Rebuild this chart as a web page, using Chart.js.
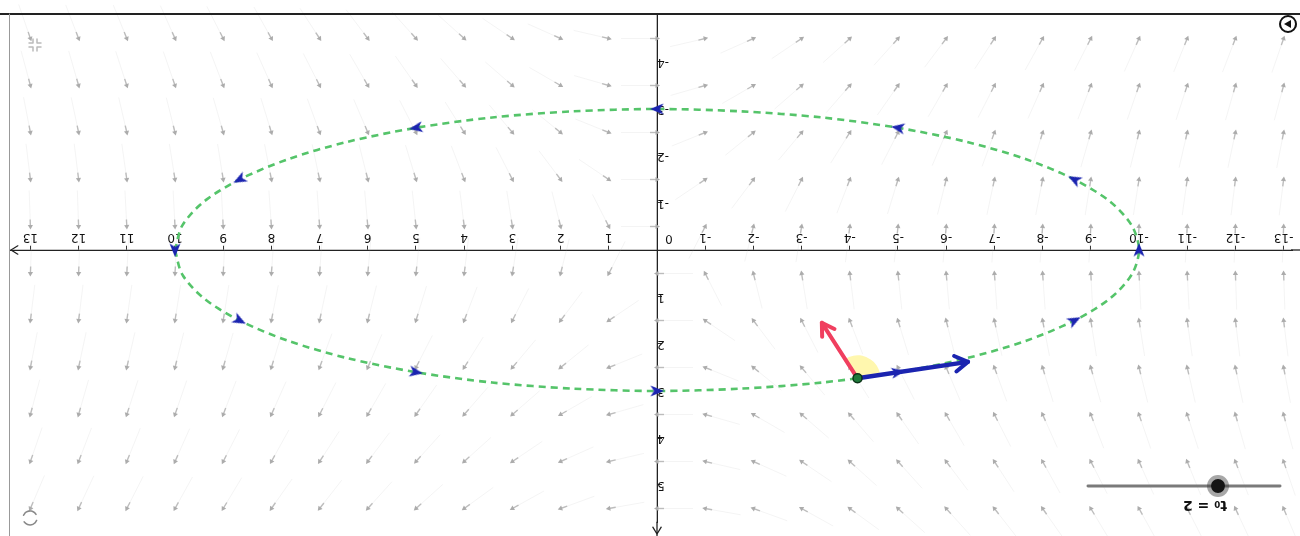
<!DOCTYPE html>
<html>
<head>
<meta charset="utf-8" />
<title>Vector field along an ellipse</title>
<script src="https://cdn.jsdelivr.net/npm/chart.js@4.4.1/dist/chart.umd.min.js"></script>
<style>
  html, body { margin: 0; padding: 0; background: #fff; overflow: hidden; }
  /* the reference shot is upside down, so the whole view is turned */
  #wrap { width: 1300px; height: 536px; transform: rotate(180deg); }
</style>
</head>
<body>
<div id="wrap"><canvas id="myChart" width="1300" height="536"></canvas></div>
<script>
// grid of the vector field (gray arrows), angle in degrees from +x, counter-clockwise
const fieldXs = [-13,-12,-11,-10,-9,-8,-7,-6,-5,-4,-3,-2,-1,0,1,2,3,4,5,6,7,8,9,10,11,12,13];
const fieldYs = [5.5, 4.5, 3.5, 2.5, 1.5, 0.5, -0.5, -1.5, -2.5, -3.5, -4.5];
const fieldAngles = [
  [-67,-65,-63,-61,-59,-55,-52,-48,-42,-36,-29,-20,-10,0,10,20,29,36,42,48,52,55,59,61,63,65,67],
  [-71,-69,-68,-66,-63,-61,-57,-53,-48,-42,-34,-24,-13,0,13,24,34,42,48,53,57,61,63,66,68,69,71],
  [-75,-74,-72,-71,-69,-66,-63,-60,-55,-49,-41,-30,-16,0,16,30,41,49,55,60,63,66,69,71,72,74,75],
  [-79,-78,-77,-76,-74,-73,-70,-67,-63,-58,-50,-39,-22,0,22,39,50,58,63,67,70,73,74,76,77,78,79],
  [-83,-83,-82,-81,-81,-79,-78,-76,-73,-69,-63,-53,-34,0,34,53,63,69,73,76,78,79,81,81,82,83,83],
  [-88,-88,-87,-87,-87,-86,-86,-85,-84,-83,-81,-76,-63,0,63,76,81,83,84,85,86,86,87,87,87,88,88],
  [-92,-92,-93,-93,-93,-94,-94,-95,-96,-97,-99,-104,-117,180,117,104,99,97,96,95,94,94,93,93,93,92,92],
  [-97,-97,-98,-99,-99,-101,-102,-104,-107,-111,-117,-127,-146,180,146,127,117,111,107,104,102,101,99,99,98,97,97],
  [-101,-102,-103,-104,-106,-107,-110,-113,-117,-122,-130,-141,-158,180,158,141,130,122,117,113,110,107,106,104,103,102,101],
  [-105,-106,-108,-109,-111,-114,-117,-120,-125,-131,-139,-150,-164,180,164,150,139,131,125,120,117,114,111,109,108,106,105],
  [-109,-111,-112,-114,-117,-119,-123,-127,-132,-138,-146,-156,-167,180,167,156,146,138,132,127,123,119,117,114,112,111,109]
];

// the green dashed ellipse (semi axes 10 and 3)
const ellipseX = [10,9.85,9.40,8.66,7.66,6.43,5.00,3.42,1.74,0,-1.74,-3.42,-5.00,-6.43,-7.66,-8.66,-9.40,-9.85,-10,
                  -9.85,-9.40,-8.66,-7.66,-6.43,-5.00,-3.42,-1.74,0,1.74,3.42,5.00,6.43,7.66,8.66,9.40,9.85,10];
const ellipseY = [0,0.52,1.03,1.50,1.93,2.30,2.60,2.82,2.95,3,2.95,2.82,2.60,2.30,1.93,1.50,1.03,0.52,0,
                  -0.52,-1.03,-1.50,-1.93,-2.30,-2.60,-2.82,-2.95,-3,-2.95,-2.82,-2.60,-2.30,-1.93,-1.50,-1.03,-0.52,0];

// blue direction marks on the ellipse
const dirX = [10, 8.66, 5, 0, -5, -8.66, -10, -8.66, -5, 0, 5, 8.66];
const dirY = [0, 1.5, 2.6, 3, 2.6, 1.5, 0, -1.5, -2.6, -3, -2.6, -1.5];
const dirAngle = [90, 152.5, 170.2, 180, 189.8, 207.5, 270, 332.5, 350.2, 360, 369.8, 387.5];

// point at t0 and its two vectors
const t0 = 2;
const pointX = -4.16, pointY = 2.73;
const tangentEnd = [-6.45, 2.38];
const fieldEnd = [-3.42, 1.55];

const axisTicksX = [-13,-12,-11,-10,-9,-8,-7,-6,-5,-4,-3,-2,-1,1,2,3,4,5,6,7,8,9,10,11,12,13];
const axisTicksY = [-4,-3,-2,-1,1,2,3,4,5];

// view: where the origin sits on the canvas and how many pixels one unit takes
const originPx = 643, originPy = 286, unitX = 48.2, unitY = 47;

const fieldPoints = [];
fieldYs.forEach((fy, i) => fieldXs.forEach((fx, j) => fieldPoints.push({x: fx, y: fy, a: fieldAngles[i][j]})));

// small arrow-head sprite pointing up, used for the blue direction marks
const headImg = document.createElement('canvas');
headImg.width = 14; headImg.height = 15;
(function () {
  const c = headImg.getContext('2d');
  c.fillStyle = '#1b24b0';
  c.beginPath();
  c.moveTo(7, 0.5); c.lineTo(1.5, 14); c.lineTo(7, 10.5); c.lineTo(12.5, 14);
  c.closePath(); c.fill();
})();

function arrowHead(ctx, x0, y0, x1, y1, len, color, w) {
  const ang = Math.atan2(y1 - y0, x1 - x0);
  ctx.strokeStyle = color; ctx.lineWidth = w;
  ctx.lineCap = 'round'; ctx.lineJoin = 'round';
  ctx.beginPath();
  ctx.moveTo(x1 - len * Math.cos(ang - 0.55), y1 - len * Math.sin(ang - 0.55));
  ctx.lineTo(x1, y1);
  ctx.lineTo(x1 - len * Math.cos(ang + 0.55), y1 - len * Math.sin(ang + 0.55));
  ctx.stroke();
}

const decor = {
  id: 'decor',
  beforeDatasetsDraw(chart) {
    const {ctx, scales: {x, y}} = chart;
    ctx.save();
    // faint shafts behind the gray field arrow heads
    fieldPoints.forEach(p => {
      const a = p.a * Math.PI / 180;
      const px = x.getPixelForValue(p.x), py = y.getPixelForValue(p.y);
      const c = Math.cos(a), s = -Math.sin(a);
      ctx.strokeStyle = 'rgba(170,170,170,0.13)'; ctx.lineWidth = 1;
      ctx.beginPath(); ctx.moveTo(px - 36 * c, py - 36 * s); ctx.lineTo(px, py); ctx.stroke();
      ctx.strokeStyle = 'rgba(170,170,170,0.75)'; ctx.lineWidth = 1.4;
      ctx.beginPath(); ctx.moveTo(px - 7 * c, py - 7 * s); ctx.lineTo(px, py); ctx.stroke();
    });
    // yellow angle between the two vectors
    const px = x.getPixelForValue(pointX), py = y.getPixelForValue(pointY);
    const aT = Math.atan2(y.getPixelForValue(tangentEnd[1]) - py, x.getPixelForValue(tangentEnd[0]) - px);
    const aF = Math.atan2(y.getPixelForValue(fieldEnd[1]) - py, x.getPixelForValue(fieldEnd[0]) - px);
    ctx.fillStyle = 'rgba(255,242,120,0.6)';
    ctx.beginPath(); ctx.moveTo(px, py);
    ctx.arc(px, py, 23, Math.min(aT, aF), Math.max(aT, aF), false);
    ctx.closePath(); ctx.fill();
    ctx.restore();
  },
  afterDatasetsDraw(chart) {
    const {ctx, scales: {x, y}} = chart;
    ctx.save();
    const px = x.getPixelForValue(pointX), py = y.getPixelForValue(pointY);
    arrowHead(ctx, px, py, x.getPixelForValue(tangentEnd[0]), y.getPixelForValue(tangentEnd[1]), 15, '#1b24b0', 4);
    arrowHead(ctx, px, py, x.getPixelForValue(fieldEnd[0]), y.getPixelForValue(fieldEnd[1]), 14, '#f03f5f', 4);
    ctx.fillStyle = '#1f7a3a'; ctx.strokeStyle = '#0c3318'; ctx.lineWidth = 1.5;
    ctx.beginPath(); ctx.arc(px, py, 4.5, 0, Math.PI * 2); ctx.fill(); ctx.stroke();
    ctx.restore();
  },
  afterDraw(chart) {
    const {ctx, chartArea: ca, scales: {x, y}} = chart;
    ctx.save();
    const ox = x.getPixelForValue(0), oy = y.getPixelForValue(0);
    // axes run on to the canvas edges, arrows at the positive ends
    ctx.strokeStyle = '#222'; ctx.lineWidth = 1.3;
    ctx.beginPath(); ctx.moveTo(0, oy); ctx.lineTo(ca.left + 1, oy); ctx.stroke();
    ctx.beginPath(); ctx.moveTo(ox, 0); ctx.lineTo(ox, ca.top + 1); ctx.stroke();
    arrowHead(ctx, ca.right - 20, oy, ca.right - 1, oy, 8, '#222', 1.3);
    arrowHead(ctx, ox, 20, ox, 2, 8, '#222', 1.3);
    ctx.fillStyle = '#111'; ctx.font = '12px "DejaVu Sans", sans-serif';
    ctx.textAlign = 'center'; ctx.textBaseline = 'middle';
    ctx.fillText('0', ox - 12, oy + 12);
    // frame
    ctx.strokeStyle = '#222'; ctx.lineWidth = 2;
    ctx.beginPath(); ctx.moveTo(0, 522); ctx.lineTo(1300, 522); ctx.stroke();
    ctx.strokeStyle = '#999'; ctx.lineWidth = 1;
    ctx.beginPath(); ctx.moveTo(1290.5, 0); ctx.lineTo(1290.5, 522); ctx.stroke();
    // slider for t0
    ctx.strokeStyle = '#7a7a7a'; ctx.lineWidth = 3;
    ctx.beginPath(); ctx.moveTo(20, 50); ctx.lineTo(212, 50); ctx.stroke();
    ctx.fillStyle = 'rgba(60,60,60,0.45)';
    ctx.beginPath(); ctx.arc(82, 50, 11, 0, Math.PI * 2); ctx.fill();
    ctx.fillStyle = '#151515';
    ctx.beginPath(); ctx.arc(82, 50, 7, 0, Math.PI * 2); ctx.fill();
    ctx.fillStyle = '#111'; ctx.font = 'bold 14px "DejaVu Sans", sans-serif';
    ctx.fillText('t\u2080 = ' + t0, 95, 31);
    // play button
    ctx.strokeStyle = '#111'; ctx.lineWidth = 2;
    ctx.beginPath(); ctx.arc(12, 512, 8, 0, Math.PI * 2); ctx.stroke();
    ctx.fillStyle = '#111';
    ctx.beginPath(); ctx.moveTo(9, 508); ctx.lineTo(9, 516); ctx.lineTo(16, 512); ctx.closePath(); ctx.fill();
    // faint view icons
    ctx.strokeStyle = '#bbb'; ctx.lineWidth = 1.5;
    [[-1, -1], [1, -1], [-1, 1], [1, 1]].forEach(([sx, sy]) => {
      ctx.beginPath();
      ctx.moveTo(1265 + sx * 2, 491 + sy * 6); ctx.lineTo(1265 + sx * 2, 491 + sy * 2); ctx.lineTo(1265 + sx * 6, 491 + sy * 2);
      ctx.stroke();
    });
    ctx.strokeStyle = '#888'; ctx.lineWidth = 1.6;
    ctx.beginPath(); ctx.arc(1270, 18, 7, 0.4, 2.6); ctx.stroke();
    ctx.beginPath(); ctx.arc(1270, 18, 7, 3.5, 5.7); ctx.stroke();
    ctx.restore();
  }
};

const tickFont = {size: 12, family: '"DejaVu Sans", sans-serif'};

const chart = new Chart(document.getElementById('myChart').getContext('2d'), {
  data: {
    datasets: [
      {
        type: 'scatter', order: 5, clip: false,
        data: fieldPoints,
        pointStyle: 'triangle', pointRadius: 3, pointBorderWidth: 0,
        pointBackgroundColor: '#acacac', pointBorderColor: '#acacac',
        pointRotation: ctx => (ctx.raw ? 90 - ctx.raw.a : 0)
      },
      {
        type: 'line', order: 4,
        data: ellipseX.map((v, i) => ({x: v, y: ellipseY[i]})),
        borderColor: '#55c46a', borderWidth: 2.6, borderDash: [7, 5],
        pointRadius: 0, tension: 0.3, fill: false
      },
      {
        type: 'scatter', order: 3,
        data: dirX.map((v, i) => ({x: v, y: dirY[i], a: dirAngle[i]})),
        pointStyle: headImg, pointRadius: 7,
        pointRotation: ctx => (ctx.raw ? 90 - ctx.raw.a : 0)
      },
      {
        type: 'line', order: 2,
        data: [{x: pointX, y: pointY}, {x: fieldEnd[0], y: fieldEnd[1]}],
        borderColor: '#f03f5f', borderWidth: 4, pointRadius: 0, borderCapStyle: 'round'
      },
      {
        type: 'line', order: 1,
        data: [{x: pointX, y: pointY}, {x: tangentEnd[0], y: tangentEnd[1]}],
        borderColor: '#1b24b0', borderWidth: 4.5, pointRadius: 0, borderCapStyle: 'round'
      }
    ]
  },
  options: {
    responsive: false,
    animation: false,
    events: [],
    devicePixelRatio: 1,
    layout: {padding: {left: 0, top: 0, right: 10, bottom: 14}},
    plugins: {legend: {display: false}, tooltip: {enabled: false}},
    scales: {
      x: {
        type: 'linear', min: -13.34, max: 13.42, position: {y: 0},
        grid: {drawOnChartArea: false, drawTicks: true, tickLength: 4, color: '#333'},
        border: {color: '#222', width: 1.3},
        afterBuildTicks: s => { s.ticks = axisTicksX.map(v => ({value: v})); },
        ticks: {autoSkip: false, maxRotation: 0, color: '#111', font: tickFont, padding: 2}
      },
      y: {
        type: 'linear', min: -5.02, max: 6.09, position: {x: 0},
        grid: {drawOnChartArea: false, drawTicks: true, tickLength: 4, color: '#333'},
        border: {color: '#222', width: 1.3},
        afterBuildTicks: s => { s.ticks = axisTicksY.map(v => ({value: v})); },
        ticks: {autoSkip: false, color: '#111', font: tickFont, padding: 6}
      }
    }
  },
  plugins: [decor]
});

// the centred axes take a little room at the edges, so fit the range to the real plot area
const area = chart.chartArea;
chart.options.scales.x.min = (area.left - originPx) / unitX;
chart.options.scales.x.max = (area.right - originPx) / unitX;
chart.options.scales.y.max = (originPy - area.top) / unitY;
chart.options.scales.y.min = (originPy - area.bottom) / unitY;
chart.update();
</script>
</body>
</html>
